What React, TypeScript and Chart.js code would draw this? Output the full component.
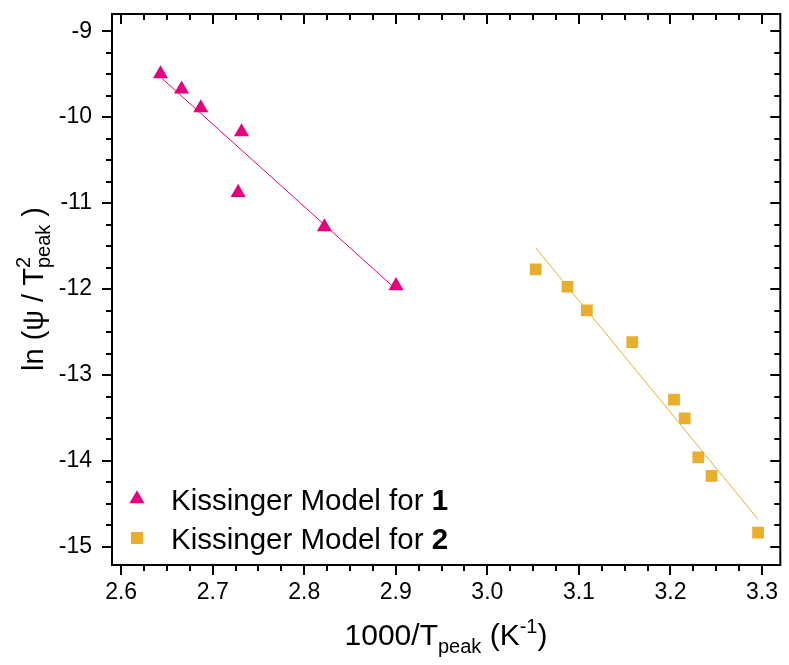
import React, { useEffect, useRef } from 'react';
import { Chart, registerables } from 'chart.js';

Chart.register(...registerables);

// ---- data ----
const series1X = [2.643, 2.666, 2.687, 2.7315, 2.7278, 2.822, 2.9003];
const series1Y = [-9.497, -9.675, -9.892, -10.171, -10.877, -11.276, -11.962];
const series2X = [3.0528, 3.0876, 3.1087, 3.1583, 3.2039, 3.2156, 3.2304, 3.2449, 3.2957];
const series2Y = [-11.771, -11.973, -12.248, -12.616, -13.287, -13.504, -13.957, -14.174, -14.834];
const fit1X = [2.6446, 2.898];
const fit1Y = [-9.55, -11.98];
const fit2X = [3.053, 3.2957];
const fit2Y = [-11.523, -14.678];
const xTicks = [2.6, 2.7, 2.8, 2.9, 3.0, 3.1, 3.2, 3.3];
const yTicks = [-9, -10, -11, -12, -13, -14, -15];
const xRange = [2.59, 3.32];
const yRange = [-15.21, -8.8];
const legendLabels = ['Kissinger Model for ', 'Kissinger Model for '];
const legendBold = ['1', '2'];

const PINK = '#E5007D';
const GOLD = '#E9AE2C';
const FONT = '"Liberation Sans", Arial, Helvetica, sans-serif';

type Part = { text: string; size: number; bold?: boolean; dy?: number; stackWith?: Part };

function partFont(p: Part) {
  return `${p.bold ? 'bold ' : ''}${p.size}px ${FONT}`;
}

function richWidth(ctx: CanvasRenderingContext2D, parts: Part[]) {
  let w = 0;
  for (const p of parts) {
    ctx.font = partFont(p);
    let pw = ctx.measureText(p.text).width;
    if (p.stackWith) {
      ctx.font = partFont(p.stackWith);
      pw = Math.max(pw, ctx.measureText(p.stackWith.text).width);
    }
    w += pw;
  }
  return w;
}

function drawRich(ctx: CanvasRenderingContext2D, parts: Part[], x: number, y: number) {
  let cx = x;
  ctx.textBaseline = 'alphabetic';
  ctx.textAlign = 'left';
  for (const p of parts) {
    ctx.font = partFont(p);
    ctx.fillText(p.text, cx, y + (p.dy || 0));
    let pw = ctx.measureText(p.text).width;
    if (p.stackWith) {
      const s = p.stackWith;
      ctx.font = partFont(s);
      ctx.fillText(s.text, cx, y + (s.dy || 0));
      pw = Math.max(pw, ctx.measureText(s.text).width);
    }
    cx += pw;
  }
}

const framePlugin = {
  id: 'framePlugin',
  afterDraw(chart: any) {
    const ctx: CanvasRenderingContext2D = chart.ctx;
    const { left, right, top, bottom } = chart.chartArea;
    const xs = chart.scales.x;
    const ys = chart.scales.y;
    ctx.save();
    ctx.strokeStyle = '#000';
    ctx.lineWidth = 2;
    ctx.strokeRect(left, top, right - left, bottom - top);

    const major = 10;
    const minor = 6;
    ctx.lineWidth = 2;
    ctx.beginPath();
    for (let i = 0; i < xTicks.length; i++) {
      const px = Math.round(xs.getPixelForValue(xTicks[i]));
      ctx.moveTo(px, bottom); ctx.lineTo(px, bottom + major);
      ctx.moveTo(px, top); ctx.lineTo(px, top + major);
      if (i < xTicks.length - 1) {
        const step = (xTicks[i + 1] - xTicks[i]) / 4;
        for (let k = 1; k < 4; k++) {
          const mx = Math.round(xs.getPixelForValue(xTicks[i] + k * step));
          ctx.moveTo(mx, bottom); ctx.lineTo(mx, bottom + minor);
          ctx.moveTo(mx, top); ctx.lineTo(mx, top + minor);
        }
      }
    }
    for (let i = 0; i < yTicks.length; i++) {
      const py = Math.round(ys.getPixelForValue(yTicks[i]));
      ctx.moveTo(left, py); ctx.lineTo(left - major, py);
      ctx.moveTo(right, py); ctx.lineTo(right - major, py);
      if (i < yTicks.length - 1) {
        const step = (yTicks[i + 1] - yTicks[i]) / 4;
        for (let k = 1; k < 4; k++) {
          const my = Math.round(ys.getPixelForValue(yTicks[i] + k * step));
          ctx.moveTo(left, my); ctx.lineTo(left - minor, my);
          ctx.moveTo(right, my); ctx.lineTo(right - minor, my);
        }
      }
    }
    ctx.stroke();

    ctx.fillStyle = '#000';
    const xParts: Part[] = [
      { text: '1000/T', size: 30 },
      { text: 'peak', size: 20, dy: 8 },
      { text: ' (K', size: 30 },
      { text: '-1', size: 20, dy: -12 },
      { text: ')', size: 30 },
    ];
    const xw = richWidth(ctx, xParts);
    drawRich(ctx, xParts, 446 - xw / 2, 645);

    const yParts: Part[] = [
      { text: 'ln (\u03C8 / T', size: 29 },
      { text: '2', size: 20, dy: -13, stackWith: { text: 'peak', size: 20, dy: 7 } },
      { text: ' )', size: 29 },
    ];
    const yw = richWidth(ctx, yParts);
    ctx.save();
    ctx.translate(43, 289);
    ctx.rotate(-Math.PI / 2);
    drawRich(ctx, yParts, -yw / 2, 0);
    ctx.restore();

    const lx = 137;
    const rows = [499, 538];
    for (let i = 0; i < 2; i++) {
      const cy = rows[i];
      if (i === 0) {
        const r = 8.7;
        ctx.fillStyle = PINK;
        ctx.beginPath();
        ctx.moveTo(lx, cy - r);
        ctx.lineTo(lx + 0.866 * r, cy + 0.5 * r);
        ctx.lineTo(lx - 0.866 * r, cy + 0.5 * r);
        ctx.closePath();
        ctx.fill();
      } else {
        ctx.fillStyle = GOLD;
        ctx.fillRect(lx - 6, cy - 6, 12, 12);
      }
      ctx.fillStyle = '#000';
      drawRich(ctx, [
        { text: legendLabels[i], size: 29.5 },
        { text: legendBold[i], size: 29.5, bold: true },
      ], 171, cy + 11);
    }
    ctx.restore();
  },
};

function zeroPad(s: any) {
  s.paddingTop = 0;
  s.paddingBottom = 0;
  s.paddingLeft = 0;
  s.paddingRight = 0;
}

export default function App() {
  const ref = useRef<HTMLCanvasElement | null>(null);
  useEffect(() => {
    if (!ref.current) return;
    const chart = new Chart(ref.current, {
      type: 'scatter',
      data: {
        datasets: [
          {
            label: 'Kissinger Model for 1',
            data: series1X.map((x, i) => ({ x, y: series1Y[i] })),
            pointStyle: 'triangle',
            pointRadius: 8.7,
            pointHoverRadius: 8.7,
            backgroundColor: PINK,
            borderColor: PINK,
            borderWidth: 0,
          },
          {
            label: 'Kissinger Model for 2',
            data: series2X.map((x, i) => ({ x, y: series2Y[i] })),
            pointStyle: 'rect',
            pointRadius: 8.3,
            pointHoverRadius: 8.3,
            backgroundColor: GOLD,
            borderColor: GOLD,
            borderWidth: 0,
          },
          {
            label: 'fit1',
            data: fit1X.map((x, i) => ({ x, y: fit1Y[i] })),
            showLine: true,
            pointRadius: 0,
            borderColor: PINK,
            borderWidth: 1,
          },
          {
            label: 'fit2',
            data: fit2X.map((x, i) => ({ x, y: fit2Y[i] })),
            showLine: true,
            pointRadius: 0,
            borderColor: GOLD,
            borderWidth: 1,
          },
        ],
      },
      options: {
        responsive: false,
        animation: false,
        devicePixelRatio: 1,
        layout: { padding: { top: 14, right: 5, left: 0, bottom: 0 } },
        plugins: {
          legend: { display: false },
          tooltip: { enabled: false },
          title: { display: false },
        },
        scales: {
          x: {
            type: 'linear',
            min: xRange[0],
            max: xRange[1],
            afterBuildTicks: (s: any) => { s.ticks = xTicks.map((v) => ({ value: v })); },
            afterFit: (s: any) => { s.height = 100; zeroPad(s); },
            grid: { display: false, drawTicks: false },
            border: { display: false },
            ticks: {
              padding: 14,
              color: '#000',
              font: { family: FONT, size: 23 },
              maxRotation: 0,
              autoSkip: false,
              callback: (v: any) => Number(v).toFixed(1),
            },
          },
          y: {
            type: 'linear',
            min: yRange[0],
            max: yRange[1],
            afterBuildTicks: (s: any) => { s.ticks = yTicks.map((v) => ({ value: v })); },
            afterFit: (s: any) => { s.width = 112; zeroPad(s); },
            grid: { display: false, drawTicks: false },
            border: { display: false },
            ticks: {
              padding: 20,
              color: '#000',
              font: { family: FONT, size: 23 },
              autoSkip: false,
              callback: (v: any) => String(v),
            },
          },
        },
      },
      plugins: [framePlugin],
    });
    return () => chart.destroy();
  }, []);
  return (
    <div style={{ position: 'absolute', left: 0, top: 0, width: 789, height: 665, background: '#fff' }}>
      <canvas ref={ref} width={789} height={665} style={{ display: 'block' }} />
    </div>
  );
}
